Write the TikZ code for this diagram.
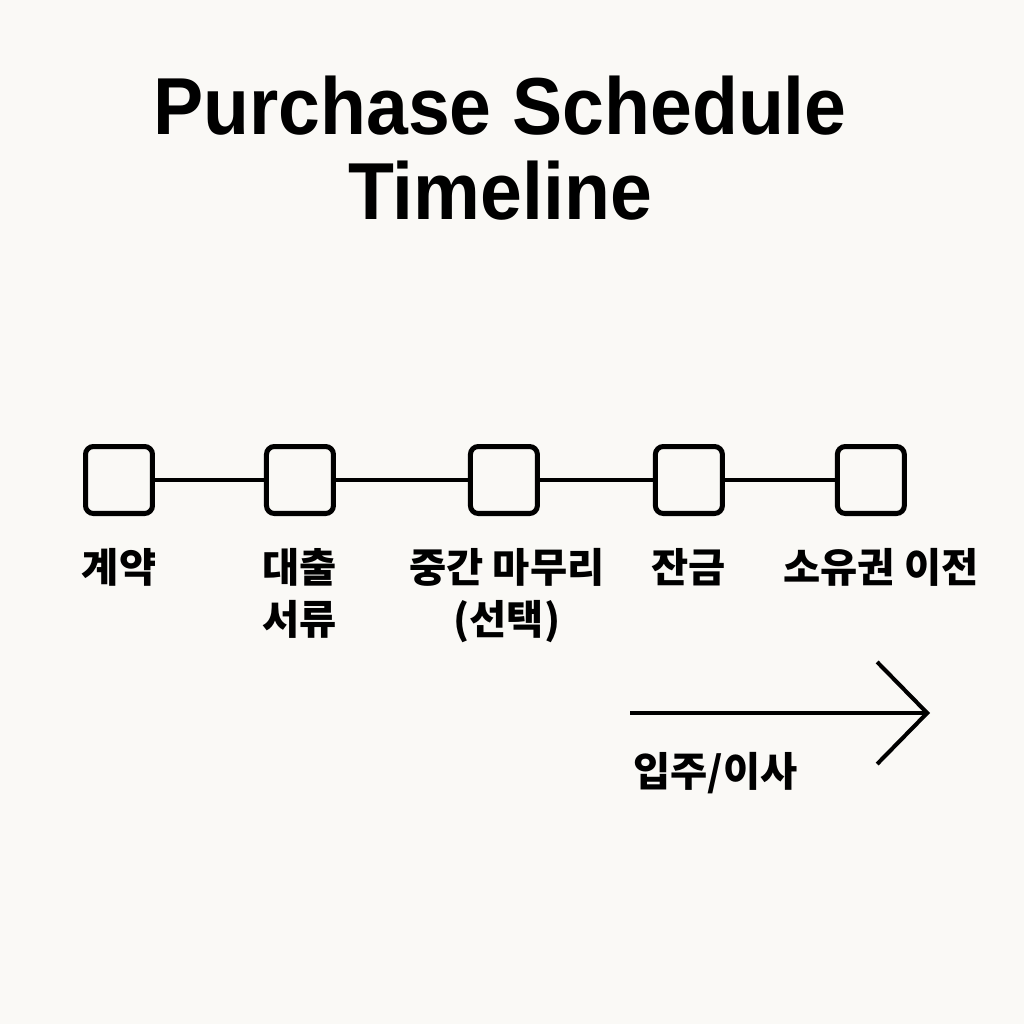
\documentclass[tikz,border=0pt]{standalone}
\usepackage{fontspec}
\setmainfont{Liberation Sans}
\newfontfamily\titlefont{Liberation Sans}[FakeStretch=0.93]
\newfontfamily\krfont{Noto Sans CJK KR}
\usetikzlibrary{positioning,arrows.meta}
\definecolor{paper}{RGB}{250,249,246}

\begin{document}
\begin{tikzpicture}[x=0.02cm,y=-0.02cm,on grid,
        stage/.style={draw,line width=2.85pt,rounded corners=4.5pt,minimum size=1.34cm,inner sep=0pt},
        tag/.style={font=\krfont\bfseries\fontsize{23}{29.6}\selectfont,align=center,inner sep=0pt},
        link/.style={line width=2.3pt}]
        \fill[paper] (0,0) rectangle (1024,1024);
        \node[font=\titlefont\bfseries\fontsize{46}{48.4}\selectfont,align=center,inner sep=0pt] (title) at (500,148.5) {Purchase Schedule\\Timeline};
        \node[stage] (contract) at (119,480) {};
        \node[stage] (loan) [right=3.62cm of contract] {};
        \node[stage] (interim) [right=4.08cm of loan] {};
        \node[stage] (balance) [right=3.7cm of interim] {};
        \node[stage] (transfer) [right=3.64cm of balance] {};
        \node[tag] (contract_t) [below=1.36cm of contract,anchor=north] {계약};
        \node[tag] (loan_t) [below=1.36cm of loan,anchor=north] {대출\\서류};
        \node[tag] (interim_t) [below=1.36cm of interim,anchor=north,xshift=0.06cm] {중간 마무리\\(선택)};
        \node[tag] (balance_t) [below=1.36cm of balance,anchor=north] {잔금};
        \node[tag] (transfer_t) [below=1.36cm of transfer,anchor=north,xshift=0.2cm] {소유권 이전};
        \draw[link] (contract) -- (loan) -- (interim) -- (balance) -- (transfer);
        \coordinate (move_from) at (630,713);
        \coordinate (move_to) at (930,713);
        \draw[link,-{Straight Barb[length=1cm,width=2.04cm]}] (move_from) -- (move_to);
        \node[tag,anchor=west] (move_t) at (633,773) {입주/이사};
    \end{tikzpicture}
\end{document}
